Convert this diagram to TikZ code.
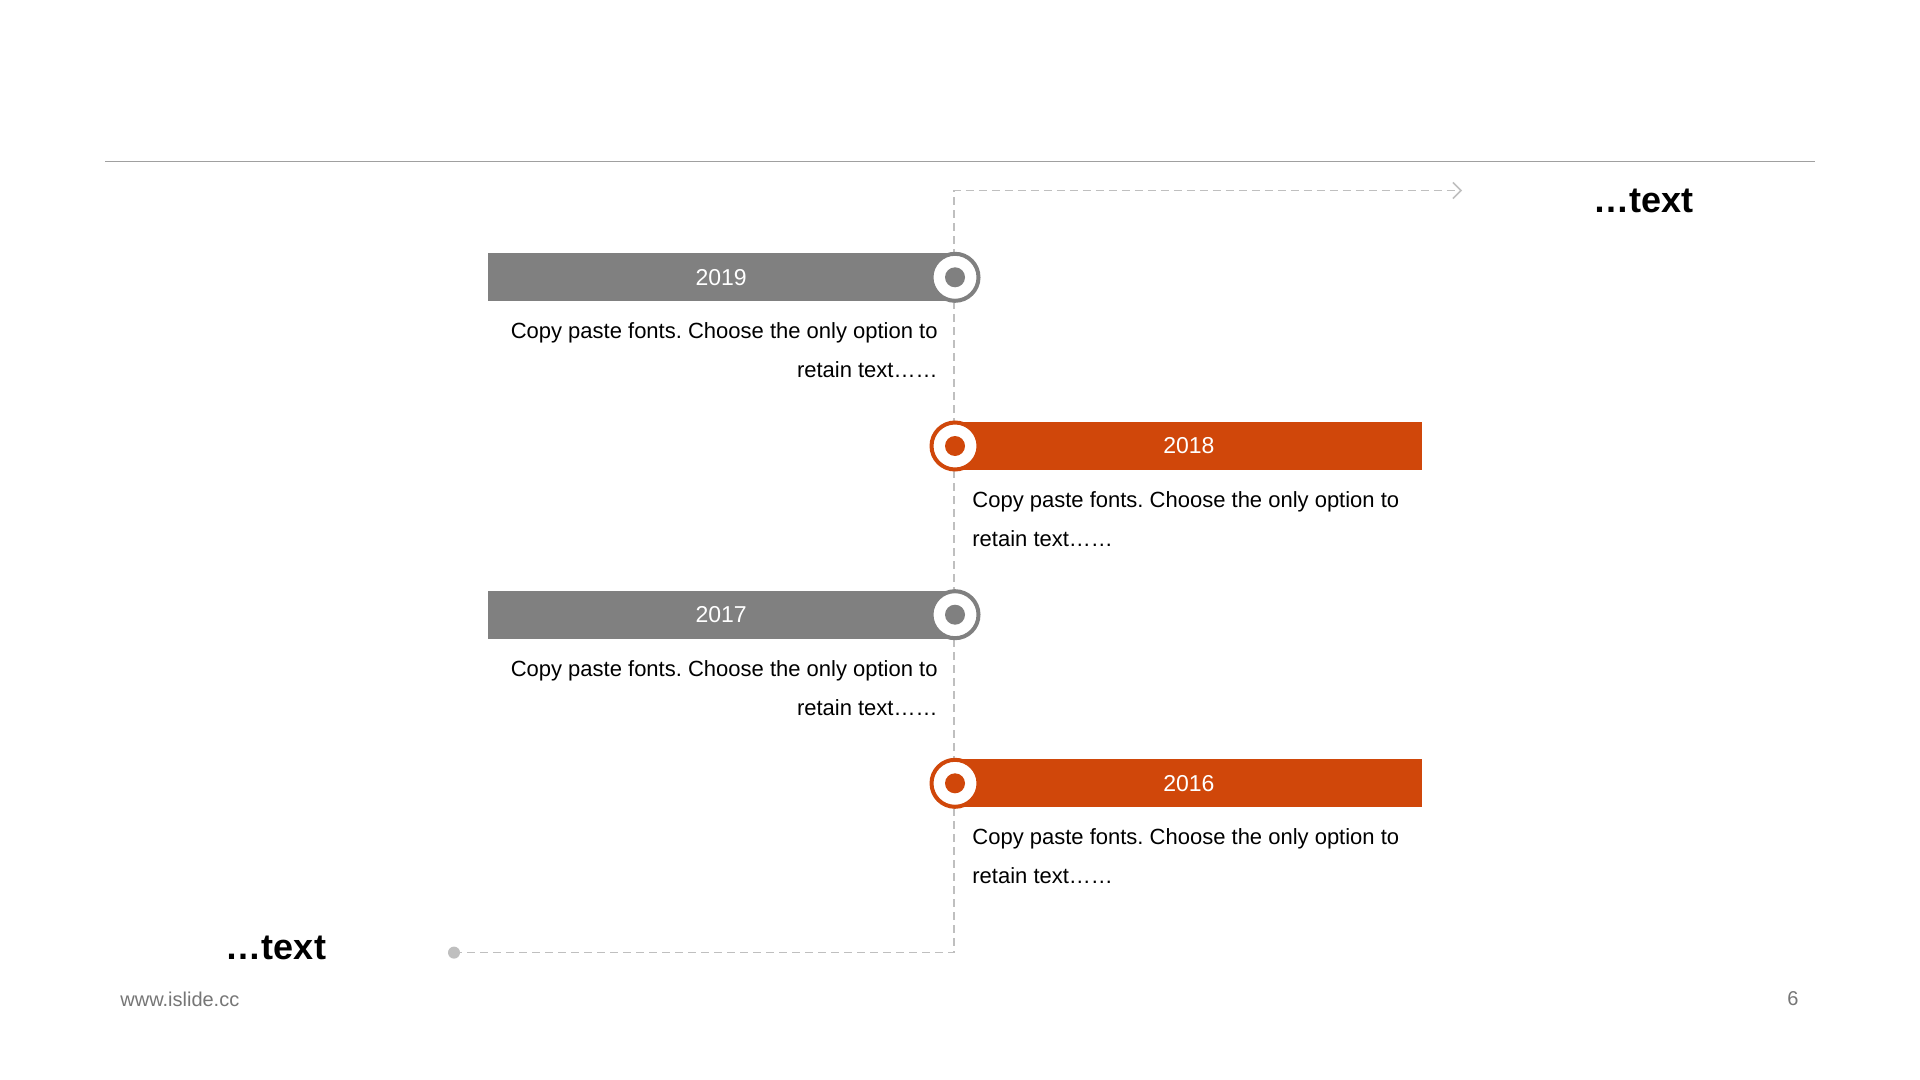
\documentclass[tikz,border=0pt]{standalone}
\usepackage{fontspec}
\setmainfont{Liberation Sans}
\usetikzlibrary{arrows.meta}
\definecolor{accent}{RGB}{208,71,10}
\definecolor{barGray}{RGB}{128,128,128}
\definecolor{dashGray}{RGB}{191,191,191}
\definecolor{ruleGray}{RGB}{160,160,160}
\definecolor{footGray}{RGB}{118,118,118}
\frenchspacing
\begin{document}
\begin{tikzpicture}[x=0.5pt,y=-0.5pt,
  yearbar/.style={minimum width=233.5pt, minimum height=24pt, inner sep=0pt, text=white,
    font=\fontsize{11.5pt}{13pt}\selectfont},
  ring/.style={circle, draw=#1, line width=2pt, fill=white, minimum size=23.5pt, inner sep=0pt},
  dotmark/.style={circle, fill=#1, minimum size=10pt, inner sep=0pt},
  desc/.style={inner sep=0pt, font=\fontsize{11pt}{19.6pt}\selectfont, text=black},
  guide/.style={draw=dashGray, line width=0.75pt, dash pattern=on 4pt off 2.5pt},
  bigtext/.style={inner sep=0pt, font=\bfseries\fontsize{18pt}{20pt}\selectfont},
  foot/.style={inner sep=0pt, text=footGray, font=\fontsize{10pt}{12pt}\selectfont}]

\useasboundingbox (0,0) rectangle (1920,1080);
\fill[white] (0,0) rectangle (1920,1080);

% top rule
\draw[ruleGray, line width=0.6pt] (105,161.5) -- (1815,161.5);

% dashed guide
\coordinate (start) at (454,952.6);
\coordinate (cornerB) at (954,952.6);
\coordinate (cornerT) at (954,190.5);
\coordinate (tip) at (1462,190.5);
\draw[guide, -{Straight Barb[length=4pt,width=8pt]}] (start) -- (cornerB) -- (cornerT) -- (tip);
\node[dotmark=dashGray, minimum size=6pt] (sdot) at (start) {};

% 2019
\node[yearbar, fill=barGray, anchor=east] (b19) at (955,277.3) {2019};
\node[ring=barGray] (r19) at (955,277.3) {};
\node[dotmark=barGray] (d19) at (r19) {};
\node[desc, align=right, anchor=east] (t19) at (938,350.5) {Copy paste fonts. Choose the only option to\\retain text……};

% 2018
\node[yearbar, fill=accent, anchor=west] (b18) at (955,446) {2018};
\node[ring=accent] (r18) at (955,446) {};
\node[dotmark=accent] (d18) at (r18) {};
\node[desc, align=left, anchor=west] (t18) at (972,519.2) {Copy paste fonts. Choose the only option to\\retain text……};

% 2017
\node[yearbar, fill=barGray, anchor=east] (b17) at (955,614.7) {2017};
\node[ring=barGray] (r17) at (955,614.7) {};
\node[dotmark=barGray] (d17) at (r17) {};
\node[desc, align=right, anchor=east] (t17) at (938,687.9) {Copy paste fonts. Choose the only option to\\retain text……};

% 2016
\node[yearbar, fill=accent, anchor=west] (b16) at (955,783.3) {2016};
\node[ring=accent] (r16) at (955,783.3) {};
\node[dotmark=accent] (d16) at (r16) {};
\node[desc, align=left, anchor=west] (t16) at (972,856.5) {Copy paste fonts. Choose the only option to\\retain text……};

% end labels
\node[bigtext] (topLabel) at (1643,201) {…text};
\node[bigtext] (botLabel) at (276,947.5) {…text};

% footer
\node[foot, anchor=west] (site) at (120,999) {www.islide.cc};
\node[foot] (page) at (1793,999) {6};
\end{tikzpicture}
\end{document}
